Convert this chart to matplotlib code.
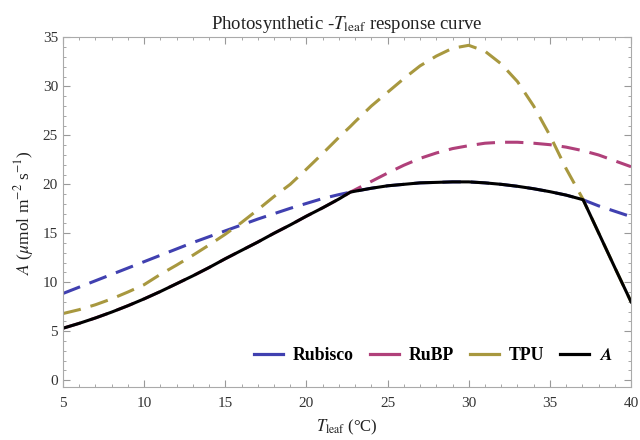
import matplotlib
matplotlib.use("Agg")
import matplotlib.pyplot as plt
from matplotlib.lines import Line2D
from matplotlib.ticker import MultipleLocator

# leaf temperature grid (degC), with the two break points of A
t_leaf = [5, 6, 7, 8, 9, 10, 11, 12, 13, 14, 15, 16, 17, 18, 19, 20, 21, 22, 22.7,
          23, 24, 25, 26, 27, 28, 29, 30, 31, 32, 33, 34, 35, 36, 37, 37.05,
          38, 39, 40]

# net assimilation A (umol m-2 s-1)
a_net = [5.3, 5.8, 6.35, 6.95, 7.6, 8.3, 9.05, 9.85, 10.65, 11.5, 12.4, 13.25,
         14.1, 15.0, 15.85, 16.75, 17.6, 18.5, 19.2,
         19.3, 19.6, 19.85, 20.0, 20.15, 20.2, 20.25, 20.25, 20.15, 20.0, 19.8,
         19.55, 19.25, 18.9, 18.45, 18.42,
         15.05, 11.5, 8.0]

rubisco = [8.85, 9.5, 10.15, 10.8, 11.45, 12.1, 12.75, 13.4, 14.05, 14.65, 15.25,
           15.85, 16.45, 17.0, 17.55, 18.05, 18.55, 18.95, 19.2,
           19.3, 19.6, 19.85, 20.0, 20.15, 20.2, 20.25, 20.25, 20.15, 20.0, 19.8,
           19.55, 19.25, 18.9, 18.45, 18.42,
           17.8, 17.25, 16.7]

rubp = [5.3, 5.8, 6.35, 6.95, 7.6, 8.3, 9.05, 9.85, 10.65, 11.5, 12.4, 13.25,
        14.1, 15.0, 15.85, 16.75, 17.6, 18.5, 19.2,
        19.45, 20.3, 21.15, 21.95, 22.65, 23.2, 23.65, 23.95, 24.2, 24.3, 24.3,
        24.2, 24.05, 23.8, 23.45, 23.43,
        23.0, 22.4, 21.8]

tpu = [6.8, 7.2, 7.7, 8.3, 9.0, 9.75, 10.8, 11.75, 12.75, 13.8, 14.9, 16.1,
       17.4, 18.75, 20.0, 21.55, 23.15, 24.8, 25.9,
       26.4, 28.0, 29.4, 30.8, 32.1, 33.1, 33.9, 34.2, 33.6, 32.3, 30.5,
       28.0, 25.0, 21.6, 18.6, 18.42,
       15.05, 11.5, 8.0]

labels = ["Rubisco", "RuBP", "TPU", "$\\boldsymbol{A}$"]
colors = ["#4040B0", "#B0407A", "#A8983F", "black"]

plt.rcParams["font.family"] = ["Liberation Serif", "DejaVu Serif"]
plt.rcParams["mathtext.fontset"] = "stix"

fig = plt.figure(figsize=(6.4, 4.4), dpi=100)
ax = fig.add_axes([0.0984, 0.1205, 0.8876, 0.7943])

dash = (6, 3.3)
ax.plot(t_leaf, rubisco, color=colors[0], lw=2.2, dashes=dash)
ax.plot(t_leaf, rubp, color=colors[1], lw=2.2, dashes=dash)
ax.plot(t_leaf, tpu, color=colors[2], lw=2.2, dashes=dash)
ax.plot(t_leaf, a_net, color=colors[3], lw=2.2)

ax.set_xlim(5, 40)
ax.set_ylim(-0.7, 35)
ax.xaxis.set_major_locator(MultipleLocator(5))
ax.xaxis.set_minor_locator(MultipleLocator(1))
ax.yaxis.set_major_locator(MultipleLocator(5))
ax.yaxis.set_minor_locator(MultipleLocator(1))
ax.tick_params(which="both", direction="in", top=True, right=True,
               colors="#999999", labelcolor="#333333", labelsize=11)
ax.tick_params(which="major", length=5, width=0.8)
ax.tick_params(which="minor", length=2.5, width=0.6)
ax.tick_params(axis="x", which="major", pad=7)
for s in ax.spines.values():
    s.set_color("#aaaaaa")
    s.set_linewidth(0.8)

ax.set_title("Photosynthetic -$T_{\\rm leaf}$ response curve", fontsize=13.5,
             color="#222222", pad=6)
ax.set_xlabel("$T_{\\rm leaf}$ (°C)", fontsize=12, color="#222222", labelpad=6)
ax.set_ylabel("$A$ ($\\mu$mol m$^{-2}$ s$^{-1}$)", fontsize=12.5, color="#222222",
              labelpad=5)

handles = [Line2D([], [], color=c, lw=2.3) for c in colors]
leg = ax.legend(handles, labels, loc="center right", ncol=4, frameon=False,
                prop={"weight": "bold", "size": 12.8}, handlelength=1.62,
                handletextpad=0.54, columnspacing=0.92, borderpad=0,
                bbox_to_anchor=(0.967, 0.089), borderaxespad=0)

fig.savefig("out.png", dpi=100)
